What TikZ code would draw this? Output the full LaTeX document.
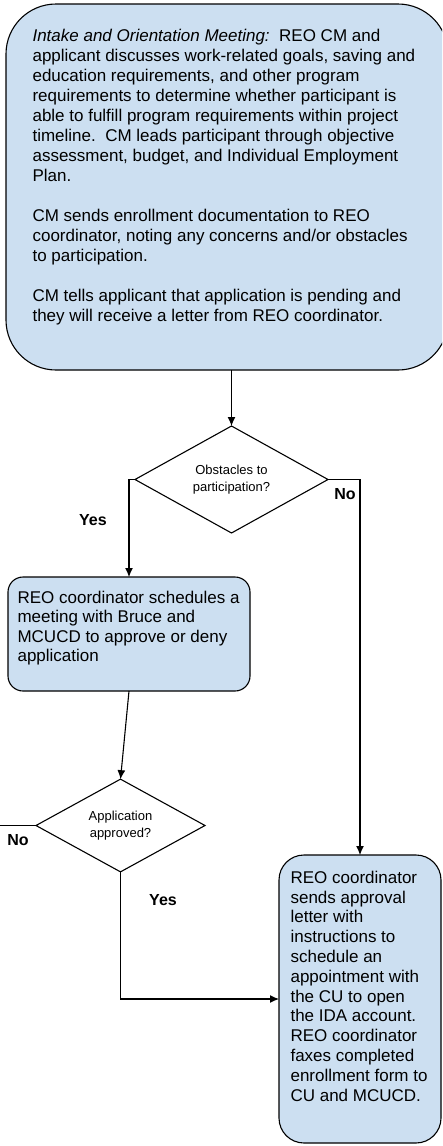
\documentclass[tikz,border=0pt]{standalone}
\usepackage{fontspec}
\setmainfont{Liberation Sans}
\usetikzlibrary{shapes.geometric}
\usetikzlibrary{arrows.meta}
\tikzset{>={Latex[length=9pt,width=8pt]}}
\definecolor{boxblue}{RGB}{204,223,241}
\tikzset{
  flowbox/.style={draw, fill=boxblue, inner sep=0pt, outer sep=0pt},
  boxtext/.style={inner sep=0pt, align=left, anchor=north west},
  decision/.style={draw, diamond, inner sep=0pt, outer sep=0pt, align=center, font=\fontsize{13}{17}\selectfont},
  answer/.style={font=\fontsize{16}{19}\selectfont\bfseries}
}

\begin{document}
\begin{tikzpicture}[x=1pt, y=-1pt, line width=1.1pt]
    \clip (0,0) rectangle (442,1146);

    % intake meeting
    \node[flowbox, rounded corners=50pt, minimum width=442pt, minimum height=366pt] (intake) at (227,187) {};
    \node[boxtext, font=\fontsize{17}{20}\selectfont] (intaketxt) at (32,28.5) {\textit{Intake and Orientation Meeting:}\ \ REO CM and\\
        applicant discusses work-related goals, saving and\\
        education requirements, and other program\\
        requirements to determine whether participant is\\
        able to fulfill program requirements within project\\
        timeline.\ \ CM leads participant through objective\\
        assessment, budget, and Individual Employment\\
        Plan.\\[20pt]
        CM sends enrollment documentation to REO\\
        coordinator, noting any concerns and/or obstacles\\
        to participation.\\[20pt]
        CM tells applicant that application is pending and\\
        they will receive a letter from REO coordinator.};

    % decisions
    \node[decision, minimum width=193pt, minimum height=107pt] (obstacles) at (231.5,479.5) {Obstacles to\\participation?};
    \node[decision, minimum width=169pt, minimum height=85pt] (approved) at (120.5,825.5) {Application\\approved?};

    % meeting with Bruce and MCUCD
    \node[flowbox, rounded corners=15pt, minimum width=242pt, minimum height=114pt] (meeting) at (129,634) {};
    \node[boxtext, font=\fontsize{17}{19.5}\selectfont] (meetingtxt) at (17,590.5) {REO coordinator schedules a\\
        meeting with Bruce and\\
        MCUCD to approve or deny\\
        application};

    % approval letter
    \node[flowbox, rounded corners=25pt, minimum width=162pt, minimum height=288pt] (letter) at (360,999) {};
    \node[boxtext, font=\fontsize{17}{19.8}\selectfont] (lettertxt) at (290,870.5) {REO coordinator\\
        sends approval\\
        letter with\\
        instructions to\\
        schedule an\\
        appointment with\\
        the CU to open\\
        the IDA account.\\
        REO coordinator\\
        faxes completed\\
        enrollment form to\\
        CU and MCUCD.};

    \coordinate (noexit) at (0,825.5);

    % intake to obstacles
    \draw[->] (intake.south -| obstacles.north) -- (obstacles.north);
    % obstacles to meeting
    \draw[->] (obstacles.west) -| (meeting.north);
    % obstacles to letter
    \draw[->] (obstacles.east) -| (letter.north);
    % meeting to approved
    \draw[->] (meeting.south) -- (approved.north);
    % approved to exit
    \draw (approved.west) -- (noexit);
    % approved to letter
    \draw[->] (approved.south) |- (letter.west);

    \node[answer] (yesone) at (93,520) {Yes};
    \node[answer] (noone) at (345,494) {No};
    \node[answer] (notwo) at (18,840) {No};
    \node[answer] (yestwo) at (163,900) {Yes};
\end{tikzpicture}
\end{document}
